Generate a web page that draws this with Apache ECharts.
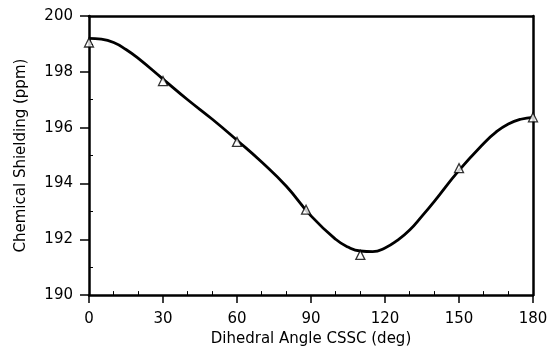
<!DOCTYPE html>
<html>
<head>
<meta charset="utf-8">
<script src="https://cdn.jsdelivr.net/npm/echarts@6/dist/echarts.min.js"></script>
<style>
  html, body { margin: 0; padding: 0; background: #fff; }
  #chart { width: 551px; height: 352px; }
</style>
</head>
<body>
<div id="chart"></div>
<script>
// fitted curve
var curveAngles = [0, 5, 10, 15, 20, 30, 40, 50, 60, 70, 80, 90, 100, 105, 110, 115, 120, 125, 130, 135, 140, 150, 160, 165, 170, 175, 180];
var curveShielding = [199.2, 199.17, 199.05, 198.8, 198.48, 197.74, 197.0, 196.3, 195.55, 194.77, 193.9, 192.84, 192.0, 191.72, 191.58, 191.56, 191.69, 191.96, 192.33, 192.83, 193.36, 194.47, 195.43, 195.84, 196.13, 196.3, 196.37];

// calculated points (triangles)
var pointAngles = [0, 30, 60, 88, 110, 150, 180];
var pointShielding = [199.05, 197.67, 195.49, 193.06, 191.44, 194.55, 196.37];

var xTicks = [0, 30, 60, 90, 120, 150, 180];
var yTicks = [190, 192, 194, 196, 198, 200];

var chart = echarts.init(document.getElementById("chart"));
var font = "DejaVu Sans";

var option = {
  animation: false,
  backgroundColor: "#fff",
  grid: { left: 89, right: 18, top: 16, bottom: 54 },
  xAxis: [
    {
      type: "value",
      min: xTicks[0],
      max: xTicks[xTicks.length - 1],
      interval: 30,
      name: "Dihedral Angle CSSC (deg)",
      nameLocation: "middle",
      nameGap: 33,
      nameTextStyle: { color: "#000", fontFamily: font, fontSize: 15 },
      axisLine: { show: true, onZero: false, lineStyle: { color: "#000", width: 2.5 } },
      axisTick: { show: true, length: 8, lineStyle: { color: "#000", width: 1.5 } },
      minorTick: { show: true, splitNumber: 3, length: -4, lineStyle: { color: "#000", width: 1 } },
      axisLabel: { color: "#000", fontFamily: font, fontSize: 15, margin: 17 },
      splitLine: { show: false }
    },
    {
      type: "value",
      position: "top",
      min: 0,
      max: 180,
      axisLine: { show: true, onZero: false, lineStyle: { color: "#000", width: 2.5 } },
      axisTick: { show: false },
      axisLabel: { show: false },
      splitLine: { show: false }
    }
  ],
  yAxis: [
    {
      type: "value",
      min: yTicks[0],
      max: yTicks[yTicks.length - 1],
      interval: 2,
      name: "Chemical Shielding (ppm)",
      nameLocation: "middle",
      nameGap: 60,
      nameTextStyle: { color: "#000", fontFamily: font, fontSize: 15 },
      axisLine: { show: true, onZero: false, lineStyle: { color: "#000", width: 2.5 } },
      axisTick: { show: true, length: 9, lineStyle: { color: "#000", width: 1.5 } },
      minorTick: { show: true, splitNumber: 2, length: -4, lineStyle: { color: "#000", width: 1 } },
      axisLabel: { color: "#000", fontFamily: font, fontSize: 15, margin: 16 },
      splitLine: { show: false }
    },
    {
      type: "value",
      position: "right",
      min: 190,
      max: 200,
      axisLine: { show: true, onZero: false, lineStyle: { color: "#000", width: 2.5 } },
      axisTick: { show: false },
      axisLabel: { show: false },
      splitLine: { show: false }
    }
  ],
  series: [
    {
      name: "fit",
      type: "line",
      smooth: 0.5,
      showSymbol: false,
      data: curveAngles.map(function (a, i) { return [a, curveShielding[i]]; }),
      lineStyle: { color: "#000", width: 2.8 },
      z: 2
    },
    {
      name: "calc",
      type: "scatter",
      symbol: "triangle",
      symbolSize: 9,
      data: pointAngles.map(function (a, i) { return [a, pointShielding[i]]; }),
      itemStyle: { color: "#fff", borderColor: "#000", borderWidth: 1.3 },
      z: 3
    }
  ]
};

chart.setOption(option);
</script>
</body>
</html>
